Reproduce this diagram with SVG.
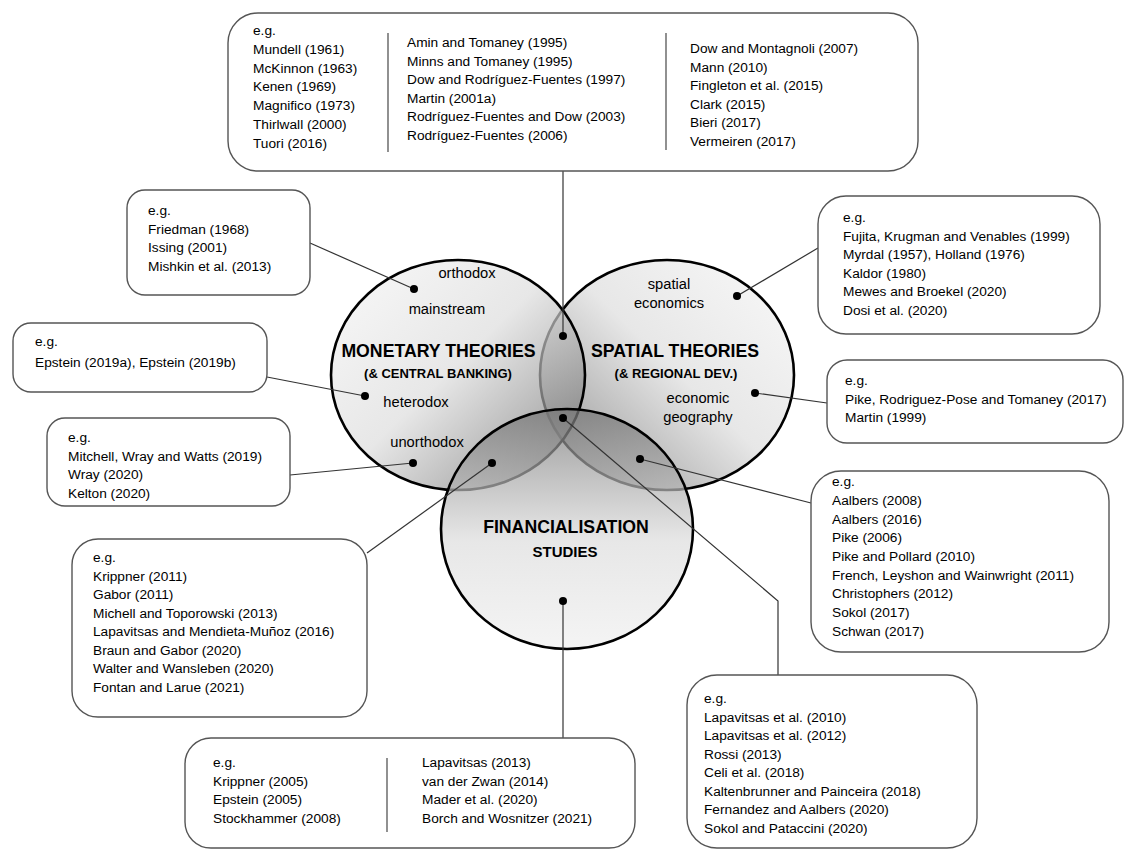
<svg xmlns="http://www.w3.org/2000/svg" width="1125" height="850" viewBox="0 0 1125 850">
<defs>
<linearGradient id="gMon" x1="0.15" y1="0.1" x2="0.95" y2="0.85">
<stop offset="0" stop-color="#f0f0f0"/><stop offset="0.45" stop-color="#dedede"/><stop offset="1" stop-color="#747474"/>
</linearGradient>
<linearGradient id="gSpa" x1="0.85" y1="0.1" x2="0.05" y2="0.85">
<stop offset="0" stop-color="#f0f0f0"/><stop offset="0.45" stop-color="#dedede"/><stop offset="1" stop-color="#747474"/>
</linearGradient>
<linearGradient id="gFin" x1="0.5" y1="1" x2="0.5" y2="0">
<stop offset="0" stop-color="#f0f0f0"/><stop offset="0.45" stop-color="#dedede"/><stop offset="1" stop-color="#747474"/>
</linearGradient>
<style>
.box{fill:#fff;stroke:#555;stroke-width:1.4}
.sep{stroke:#555;stroke-width:1.3}
.ven{stroke:#000;stroke-width:2.6;fill-opacity:0.72}
.t{font-family:"Liberation Sans",Arial,sans-serif;font-size:13.7px;fill:#000}
.lbl{font-family:"Liberation Sans",Arial,sans-serif;font-size:14.7px;fill:#000;text-anchor:middle}
.big{font-family:"Liberation Sans",Arial,sans-serif;font-size:17.7px;font-weight:bold;fill:#000;text-anchor:middle}
.sub{font-family:"Liberation Sans",Arial,sans-serif;font-size:13px;font-weight:bold;fill:#000;text-anchor:middle}
.con{stroke:#333;stroke-width:1.2;fill:none}
.dot{fill:#000}
</style>
</defs>

<g id="circles">
<ellipse id="spatial" class="ven" cx="667" cy="375" rx="127" ry="115" fill="url(#gSpa)"/>
<ellipse id="monetary" class="ven" cx="458" cy="375" rx="127" ry="115" fill="url(#gMon)"/>
<ellipse id="financialisation" class="ven" cx="567" cy="529" rx="126" ry="120" fill="url(#gFin)"/>
</g>

<g id="circle-labels">
<text class="lbl" x="467" y="278">orthodox</text>
<text class="lbl" x="447" y="314">mainstream</text>
<text class="big" x="438.5" y="357">MONETARY THEORIES</text>
<text class="sub" x="438" y="378">(&amp; CENTRAL BANKING)</text>
<text class="lbl" x="416" y="407">heterodox</text>
<text class="lbl" x="427" y="447">unorthodox</text>
<text class="lbl" x="669" y="289">spatial</text>
<text class="lbl" x="669" y="308">economics</text>
<text class="big" x="675" y="357">SPATIAL THEORIES</text>
<text class="sub" x="676" y="378">(&amp; REGIONAL DEV.)</text>
<text class="lbl" x="698" y="403">economic</text>
<text class="lbl" x="698" y="422">geography</text>
<text class="big" x="566" y="533">FINANCIALISATION</text>
<text class="sub" x="565" y="557" style="font-size:15px">STUDIES</text>
</g>

<g id="connectors">
<line class="con" x1="563" y1="171" x2="563" y2="336"/>
<line class="con" x1="310" y1="243" x2="414" y2="289"/>
<line class="con" x1="267" y1="377" x2="365" y2="396"/>
<line class="con" x1="290" y1="475" x2="413" y2="463"/>
<line class="con" x1="492" y1="463" x2="367" y2="553"/>
<line class="con" x1="563" y1="601" x2="563" y2="738"/>
<polyline class="con" points="563,418 778,601 778,675"/>
<line class="con" x1="640" y1="459" x2="811" y2="503"/>
<line class="con" x1="737" y1="296" x2="818" y2="248"/>
<line class="con" x1="755" y1="393" x2="827" y2="403"/>
<circle class="dot" cx="563" cy="336" r="4"/>
<circle class="dot" cx="414" cy="289" r="4"/>
<circle class="dot" cx="365" cy="396" r="4"/>
<circle class="dot" cx="413" cy="463" r="4"/>
<circle class="dot" cx="492" cy="463" r="4"/>
<circle class="dot" cx="563" cy="601" r="4"/>
<circle class="dot" cx="563" cy="418" r="4"/>
<circle class="dot" cx="640" cy="459" r="4"/>
<circle class="dot" cx="737" cy="296" r="4"/>
<circle class="dot" cx="755" cy="393" r="4"/>
</g>

<g id="box-top">
<rect class="box" x="228" y="13" width="690" height="158" rx="30"/>
<line class="sep" x1="388" y1="33" x2="388" y2="152"/>
<line class="sep" x1="666" y1="33" x2="666" y2="150"/>
<text class="t"><tspan x="253" y="35">e.g.</tspan><tspan x="253" y="54">Mundell (1961)</tspan><tspan x="253" y="72.5">McKinnon (1963)</tspan><tspan x="253" y="91">Kenen (1969)</tspan><tspan x="253" y="110">Magnifico (1973)</tspan><tspan x="253" y="129">Thirlwall (2000)</tspan><tspan x="253" y="148">Tuori (2016)</tspan></text>
<text class="t"><tspan x="407" y="47">Amin and Tomaney (1995)</tspan><tspan x="407" y="65.5">Minns and Tomaney (1995)</tspan><tspan x="407" y="84">Dow and Rodríguez-Fuentes (1997)</tspan><tspan x="407" y="102.5">Martin (2001a)</tspan><tspan x="407" y="121">Rodríguez-Fuentes and Dow (2003)</tspan><tspan x="407" y="139.5">Rodríguez-Fuentes (2006)</tspan></text>
<text class="t"><tspan x="690" y="53">Dow and Montagnoli (2007)</tspan><tspan x="690" y="71.5">Mann (2010)</tspan><tspan x="690" y="90">Fingleton et al. (2015)</tspan><tspan x="690" y="108.5">Clark (2015)</tspan><tspan x="690" y="127">Bieri (2017)</tspan><tspan x="690" y="146">Vermeiren (2017)</tspan></text>
</g>

<g id="box-friedman">
<rect class="box" x="127" y="190" width="183" height="105" rx="18"/>
<text class="t"><tspan x="148" y="215">e.g.</tspan><tspan x="148" y="233.5">Friedman (1968)</tspan><tspan x="148" y="252">Issing (2001)</tspan><tspan x="148" y="270.5">Mishkin et al. (2013)</tspan></text>
</g>

<g id="box-epstein">
<rect class="box" x="13" y="323" width="254" height="69" rx="18"/>
<text class="t"><tspan x="35" y="346">e.g.</tspan><tspan x="35" y="367">Epstein (2019a), Epstein (2019b)</tspan></text>
</g>

<g id="box-mitchell">
<rect class="box" x="47" y="418" width="243" height="88" rx="18"/>
<text class="t"><tspan x="68" y="442">e.g.</tspan><tspan x="68" y="460.5">Mitchell, Wray and Watts (2019)</tspan><tspan x="68" y="479">Wray (2020)</tspan><tspan x="68" y="497.5">Kelton (2020)</tspan></text>
</g>

<g id="box-krippner">
<rect class="box" x="72" y="539" width="295" height="178" rx="26"/>
<text class="t"><tspan x="93" y="562">e.g.</tspan><tspan x="93" y="580.5">Krippner (2011)</tspan><tspan x="93" y="599">Gabor (2011)</tspan><tspan x="93" y="617.5">Michell and Toporowski (2013)</tspan><tspan x="93" y="636">Lapavitsas and Mendieta-Muñoz (2016)</tspan><tspan x="93" y="654.5">Braun and Gabor (2020)</tspan><tspan x="93" y="673">Walter and Wansleben (2020)</tspan><tspan x="93" y="691.5">Fontan and Larue (2021)</tspan></text>
</g>

<g id="box-bottom">
<rect class="box" x="185" y="738" width="450" height="110" rx="26"/>
<line class="sep" x1="387" y1="758" x2="387" y2="832"/>
<text class="t"><tspan x="213" y="767">e.g.</tspan><tspan x="213" y="785.5">Krippner (2005)</tspan><tspan x="213" y="804">Epstein (2005)</tspan><tspan x="213" y="822.5">Stockhammer (2008)</tspan></text>
<text class="t"><tspan x="422" y="767">Lapavitsas (2013)</tspan><tspan x="422" y="785.5">van der Zwan (2014)</tspan><tspan x="422" y="804">Mader et al. (2020)</tspan><tspan x="422" y="822.5">Borch and Wosnitzer (2021)</tspan></text>
</g>

<g id="box-lapavitsas">
<rect class="box" x="687" y="675" width="290" height="173" rx="30"/>
<text class="t"><tspan x="704" y="703">e.g.</tspan><tspan x="704" y="721.5">Lapavitsas et al. (2010)</tspan><tspan x="704" y="740">Lapavitsas et al. (2012)</tspan><tspan x="704" y="758.5">Rossi (2013)</tspan><tspan x="704" y="777">Celi et al. (2018)</tspan><tspan x="704" y="795.5">Kaltenbrunner and Painceira (2018)</tspan><tspan x="704" y="814">Fernandez and Aalbers (2020)</tspan><tspan x="704" y="832.5">Sokol and Pataccini (2020)</tspan></text>
</g>

<g id="box-aalbers">
<rect class="box" x="811" y="471" width="298" height="181" rx="30"/>
<text class="t"><tspan x="832" y="486">e.g.</tspan><tspan x="832" y="505">Aalbers (2008)</tspan><tspan x="832" y="523.5">Aalbers (2016)</tspan><tspan x="832" y="542">Pike (2006)</tspan><tspan x="832" y="560.5">Pike and Pollard (2010)</tspan><tspan x="832" y="579.5">French, Leyshon and Wainwright (2011)</tspan><tspan x="832" y="598">Christophers (2012)</tspan><tspan x="832" y="617">Sokol (2017)</tspan><tspan x="832" y="636">Schwan (2017)</tspan></text>
</g>

<g id="box-fujita">
<rect class="box" x="818" y="196" width="282" height="138" rx="28"/>
<text class="t"><tspan x="843" y="222">e.g.</tspan><tspan x="843" y="240.5">Fujita, Krugman and Venables (1999)</tspan><tspan x="843" y="259">Myrdal (1957), Holland (1976)</tspan><tspan x="843" y="277.5">Kaldor (1980)</tspan><tspan x="843" y="296">Mewes and Broekel (2020)</tspan><tspan x="843" y="314.5">Dosi et al. (2020)</tspan></text>
</g>

<g id="box-pike">
<rect class="box" x="827" y="360" width="296" height="83" rx="20"/>
<text class="t"><tspan x="845" y="385">e.g.</tspan><tspan x="845" y="403.5">Pike, Rodriguez-Pose and Tomaney (2017)</tspan><tspan x="845" y="422">Martin (1999)</tspan></text>
</g>
</svg>
